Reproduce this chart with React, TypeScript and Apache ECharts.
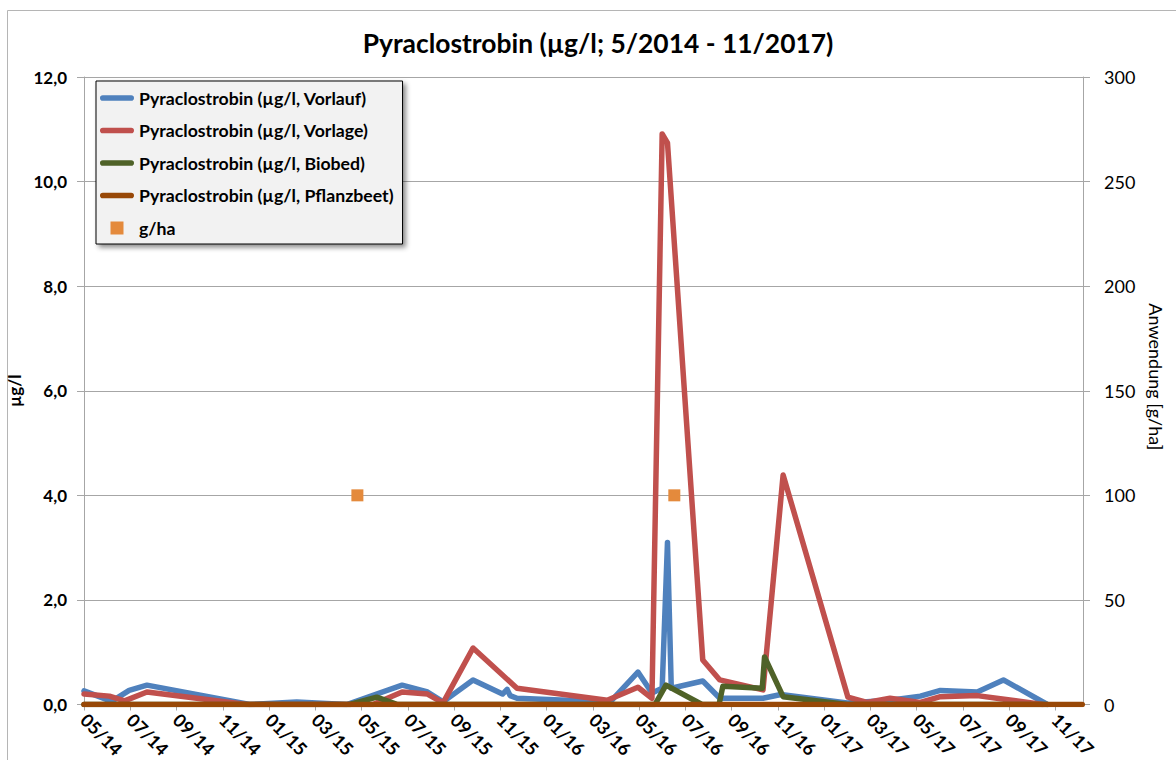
import React, { useEffect, useRef } from "react";
import * as echarts from "echarts";

const FONT = "Lato, 'Noto Sans', sans-serif";

const BLUE = "#4f81bd";
const RED = "#c0504d";
const GREEN = "#4f6228";
const BROWN = "#984807";
const ORANGE = "#e48a3c";

const TITLE = "Pyraclostrobin (µg/l; 5/2014 - 11/2017)";
const NAME_VORLAUF = "Pyraclostrobin (µg/l, Vorlauf)";
const NAME_VORLAGE = "Pyraclostrobin (µg/l, Vorlage)";
const NAME_BIOBED = "Pyraclostrobin (µg/l, Biobed)";
const NAME_PFLANZ = "Pyraclostrobin (µg/l, Pflanzbeet)";
const NAME_GHA = "g/ha";

const vorlauf: [string, number][] = [
  ["2014-05-01", 0.26],
  ["2014-06-07", 0.06],
  ["2014-06-30", 0.27],
  ["2014-07-23", 0.37],
  ["2014-12-06", 0.0],
  ["2015-02-07", 0.05],
  ["2015-04-12", 0.0],
  ["2015-06-24", 0.37],
  ["2015-07-27", 0.24],
  ["2015-08-17", 0.05],
  ["2015-09-26", 0.47],
  ["2015-11-04", 0.2],
  ["2015-11-10", 0.29],
  ["2015-11-14", 0.17],
  ["2015-11-23", 0.12],
  ["2016-03-24", 0.05],
  ["2016-04-30", 0.62],
  ["2016-05-18", 0.22],
  ["2016-06-01", 0.31],
  ["2016-06-08", 3.1],
  ["2016-06-13", 0.31],
  ["2016-07-24", 0.45],
  ["2016-08-16", 0.12],
  ["2016-10-12", 0.12],
  ["2016-11-05", 0.19],
  ["2017-02-01", 0.03],
  ["2017-03-27", 0.08],
  ["2017-05-06", 0.16],
  ["2017-06-02", 0.27],
  ["2017-07-20", 0.24],
  ["2017-08-24", 0.47],
  ["2017-10-21", 0.0],
];

const vorlage: [string, number][] = [
  ["2014-05-01", 0.2],
  ["2014-06-04", 0.16],
  ["2014-06-24", 0.07],
  ["2014-07-23", 0.24],
  ["2014-12-02", 0.0],
  ["2015-05-16", 0.0],
  ["2015-06-24", 0.24],
  ["2015-07-27", 0.2],
  ["2015-08-17", 0.03],
  ["2015-09-26", 1.08],
  ["2015-11-23", 0.31],
  ["2016-03-20", 0.08],
  ["2016-04-30", 0.33],
  ["2016-05-18", 0.12],
  ["2016-06-01", 10.91],
  ["2016-06-08", 10.74],
  ["2016-07-24", 0.85],
  ["2016-08-16", 0.47],
  ["2016-10-12", 0.28],
  ["2016-11-08", 4.39],
  ["2017-02-02", 0.14],
  ["2017-02-27", 0.04],
  ["2017-03-27", 0.12],
  ["2017-05-06", 0.04],
  ["2017-06-02", 0.15],
  ["2017-07-20", 0.17],
  ["2017-10-15", 0.0],
];

const biobed: [string, number][] = [
  ["2014-05-01", 0.0],
  ["2015-04-16", 0.0],
  ["2015-05-21", 0.14],
  ["2015-06-18", 0.0],
  ["2016-05-22", 0.0],
  ["2016-06-06", 0.37],
  ["2016-07-23", 0.0],
  ["2016-08-15", 0.0],
  ["2016-08-20", 0.35],
  ["2016-10-11", 0.31],
  ["2016-10-14", 0.91],
  ["2016-11-08", 0.15],
  ["2017-02-01", 0.0],
  ["2017-10-21", 0.0],
];

const pflanzbeet: [string, number][] = [
  ["2014-05-01", 0.0],
  ["2017-12-06", 0.0],
];

const gha: [string, number][] = [
  ["2015-04-26", 100],
  ["2016-06-17", 100],
];

const AXIS_START = "2014-05-01";
const AXIS_END = "2017-12-07";
// x-axis tick positions: every 2 months from 05/14 to 11/17 (in months since 05/2014)
const X_TICKS = [0, 2, 4, 6, 8, 10, 12, 14, 16, 18, 20, 22, 24, 26, 28, 30, 32, 34, 36, 38, 40, 42];

const LEFT_MAX = 12;
const LEFT_STEP = 2;
const RIGHT_MAX = 300;
const RIGHT_STEP = 50;

function toMonths(d: string): number {
  const [y, m, day] = d.split("-").map(Number);
  const [y0, m0] = AXIS_START.split("-").map(Number);
  return (y - y0) * 12 + (m - m0) + (day - 1) / 30.44;
}

function monthLabel(v: number): string {
  const [y0, m0] = AXIS_START.split("-").map(Number);
  const total = m0 - 1 + Math.round(v);
  const mm = (total % 12) + 1;
  const yy = (y0 + Math.floor(total / 12)) % 100;
  return String(mm).padStart(2, "0") + "/" + String(yy).padStart(2, "0");
}

const BAR_ICON = "path://M3,0 L33,0 A3,3 0 0 1 33,6 L3,6 A3,3 0 0 1 3,0 Z";
const SQUARE_ICON = "path://M0,0 L10,0 L10,10 L0,10 Z";

const GRID_COLOR = "#a6a6a6";

function lineSeries(name: string, color: string, data: [string, number][]) {
  return {
    type: "line",
    name,
    data: data.map(([d, v]) => [toMonths(d), v]),
    symbol: "none",
    showSymbol: false,
    lineStyle: { width: 5.5, color, cap: "round", join: "round" },
    itemStyle: { color },
    emphasis: { disabled: true },
  };
}

export default function App() {
  const ref = useRef<HTMLDivElement>(null);

  useEffect(() => {
    if (!ref.current) return;
    const chart = echarts.init(ref.current, undefined, { renderer: "svg" });
    const option: any = {
      animation: false,
      backgroundColor: "#ffffff",
      textStyle: { fontFamily: FONT },
      graphic: [
        {
          type: "rect",
          shape: { x: 7.5, y: 10.5, width: 1300, height: 900 },
          style: { fill: "none", stroke: "#b5b5b5", lineWidth: 1 },
          silent: true,
          z: -10,
        },
      ],
      title: {
        text: TITLE,
        left: 593,
        textAlign: "center",
        top: 25,
        textStyle: { fontFamily: FONT, fontSize: 26.4, fontWeight: "bold", color: "#000" },
      },
      legend: {
        orient: "vertical",
        left: 96,
        top: 81,
        padding: [7, 9, 6, 4],
        itemWidth: 34,
        itemHeight: 13,
        itemGap: 12.5,
        backgroundColor: "#f2f2f2",
        borderColor: "#000",
        borderWidth: 1,
        shadowColor: "rgba(0,0,0,0.45)",
        shadowBlur: 5,
        shadowOffsetX: 3,
        shadowOffsetY: 3,
        selectedMode: false,
        textStyle: { fontFamily: FONT, fontSize: 17.7, fontWeight: "bold", color: "#000", lineHeight: 20 },
        data: [
          { name: NAME_VORLAUF, icon: BAR_ICON, itemStyle: { color: BLUE, borderWidth: 0 } },
          { name: NAME_VORLAGE, icon: BAR_ICON, itemStyle: { color: RED, borderWidth: 0 } },
          { name: NAME_BIOBED, icon: BAR_ICON, itemStyle: { color: GREEN, borderWidth: 0 } },
          { name: NAME_PFLANZ, icon: BAR_ICON, itemStyle: { color: BROWN, borderWidth: 0 } },
          { name: NAME_GHA, icon: SQUARE_ICON, itemStyle: { color: ORANGE, borderWidth: 0, opacity: 1 } },
        ],
      },
      grid: {
        left: 84,
        right: 93,
        top: 77,
        bottom: 55.5,
        containLabel: false,
        outerBoundsMode: "none",
      },
      xAxis: {
        type: "value",
        min: 0,
        max: toMonths(AXIS_END),
        interval: 2,
        axisLine: { show: true, onZero: false, lineStyle: { color: GRID_COLOR, width: 1 } },
        axisTick: { show: true, length: 6, customValues: X_TICKS, lineStyle: { color: GRID_COLOR } },
        axisLabel: {
          customValues: X_TICKS,
          rotate: -45,
          margin: 12,
          formatter: (v: number) => monthLabel(v),
          fontFamily: FONT,
          fontSize: 18,
          fontWeight: "bold",
          color: "#000",
        },
        splitLine: { show: false },
      },
      yAxis: [
        {
          type: "value",
          position: "left",
          min: 0,
          max: LEFT_MAX,
          interval: LEFT_STEP,
          name: "µg/l",
          nameLocation: "middle",
          nameGap: 48,
          nameTextStyle: { fontFamily: FONT, fontSize: 17, fontWeight: "bold", color: "#000" },
          axisLine: { show: true, lineStyle: { color: GRID_COLOR, width: 1 } },
          axisTick: { show: true, length: 7, lineStyle: { color: GRID_COLOR } },
          axisLabel: {
            formatter: (v: number) => v.toFixed(1).replace(".", ","),
            margin: 17,
            fontFamily: FONT,
            fontSize: 17,
            fontWeight: "bold",
            color: "#000",
          },
          splitLine: { show: true, lineStyle: { color: GRID_COLOR, width: 1 } },
        },
        {
          type: "value",
          position: "right",
          min: 0,
          max: RIGHT_MAX,
          interval: RIGHT_STEP,
          name: "Anwendung [g/ha]",
          nameLocation: "middle",
          nameRotate: -90,
          nameGap: 64,
          nameTextStyle: { fontFamily: FONT, fontSize: 18, color: "#000", padding: [0, 28, 0, 0] },
          axisLine: { show: true, lineStyle: { color: GRID_COLOR, width: 1 } },
          axisTick: { show: true, length: 7, lineStyle: { color: GRID_COLOR } },
          axisLabel: { margin: 21, fontFamily: FONT, fontSize: 18, color: "#000" },
          splitLine: { show: false },
        },
      ],
      series: [
        lineSeries(NAME_VORLAUF, BLUE, vorlauf),
        lineSeries(NAME_VORLAGE, RED, vorlage),
        lineSeries(NAME_BIOBED, GREEN, biobed),
        lineSeries(NAME_PFLANZ, BROWN, pflanzbeet),
        {
          type: "scatter",
          name: NAME_GHA,
          yAxisIndex: 1,
          symbol: "rect",
          symbolSize: 12,
          itemStyle: { color: ORANGE, opacity: 1 },
          data: gha.map(([d, v]) => [toMonths(d), v]),
          z: 5,
        },
      ],
    };
    chart.setOption(option);
    return () => chart.dispose();
  }, []);

  return (
    <div
      ref={ref}
      style={{ position: "fixed", left: 0, top: 0, width: 1176, height: 760 }}
    />
  );
}
